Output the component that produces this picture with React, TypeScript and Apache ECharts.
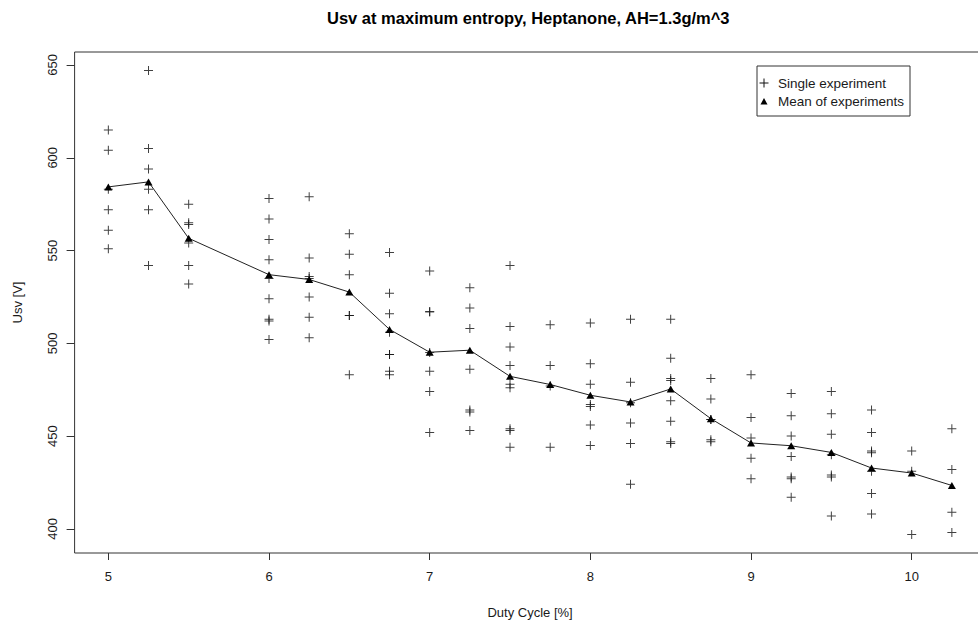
import React, { useEffect, useRef } from "react";
import * as echarts from "echarts";

const FONT = "'Liberation Sans', Arial, Helvetica, sans-serif";

// Duty cycle positions (%)
const dutyCycles: number[] = [5, 5.25, 5.5, 6, 6.25, 6.5, 6.75, 7, 7.25, 7.5, 7.75, 8, 8.25, 8.5, 8.75, 9, 9.25, 9.5, 9.75, 10, 10.25];

// Single experiment values (Usv [V]) per duty cycle
const singleValues: number[][] = [
  [615, 604, 583, 572, 561, 551],
  [647, 605, 594, 583, 572, 542],
  [575, 565, 564, 554, 542, 532],
  [578, 567, 556, 545, 535, 524, 513, 512, 502],
  [579, 546, 536, 535, 525, 514, 503],
  [559, 548, 537, 515, 515, 483],
  [549, 527, 516, 506, 494, 494, 485, 483],
  [539, 517, 517, 495, 485, 474, 452],
  [530, 519, 508, 486, 464, 463, 453],
  [542, 509, 498, 488, 478, 476, 454, 453, 444],
  [510, 488, 477, 444],
  [511, 489, 478, 467, 466, 456, 445],
  [513, 479, 468, 457, 446, 424],
  [513, 492, 481, 480, 469, 458, 447, 446],
  [481, 470, 459, 459, 448, 447],
  [483, 460, 449, 438, 427],
  [473, 461, 450, 439, 428, 427, 417],
  [474, 462, 451, 440, 429, 428, 407],
  [464, 452, 442, 441, 431, 419, 408],
  [442, 431, 397],
  [454, 432, 409, 398],
];

// Mean of experiments per duty cycle
const meanValues: number[] = [584.3, 587.0, 556.6, 537.0, 534.4, 527.6, 507.5, 495.2, 496.3, 482.2, 477.8, 472.0, 468.4, 475.4, 459.4, 446.3, 444.8, 441.2, 432.8, 430.1, 423.4];

// Tick labels
const xTicks: number[] = [5, 6, 7, 8, 9, 10];
const yTicks: number[] = [400, 450, 500, 550, 600, 650];

const CROSS = "path://M4,0H5V4H9V5H5V9H4V5H0V4H4Z";

export default function App() {
  const ref = useRef<HTMLDivElement>(null);

  useEffect(() => {
    if (!ref.current) return;
    const chart = echarts.init(ref.current, null, { renderer: "svg" });

    const singlePoints: number[][] = [];
    dutyCycles.forEach((x, i) => {
      singleValues[i].forEach((v) => singlePoints.push([x, v]));
    });
    const meanPoints = dutyCycles.map((x, i) => [x, meanValues[i]]);

    const labelStyle = { color: "#1a1a1a", fontSize: 13, fontFamily: FONT };

    chart.setOption({
      animation: false,
      backgroundColor: "#fff",
      title: {
        text: "Usv at maximum entropy, Heptanone, AH=1.3g/m^3",
        left: 327,
        top: 9,
        padding: 0,
        textStyle: { color: "#000", fontSize: 16.5, fontWeight: "bold", fontFamily: FONT },
      },
      grid: {
        left: 74.6,
        top: 52,
        width: 911,
        height: 501,
        outerBoundsMode: "none",
        containLabel: false,
        show: true,
        borderColor: "#333",
        borderWidth: 1,
        backgroundColor: "transparent",
      },
      xAxis: {
        type: "value",
        min: 4.79,
        max: 10.46,
        name: "Duty Cycle [%]",
        nameLocation: "middle",
        nameGap: 53,
        nameTextStyle: { ...labelStyle },
        axisLine: { show: false },
        splitLine: { show: false },
        axisTick: { show: true, length: 7, customValues: xTicks, lineStyle: { color: "#333" } },
        axisLabel: { ...labelStyle, margin: 17, customValues: xTicks },
      },
      yAxis: {
        type: "value",
        min: 387,
        max: 657,
        name: "Usv [V]",
        nameLocation: "middle",
        nameGap: 51,
        nameTextStyle: { ...labelStyle },
        axisLine: { show: false },
        splitLine: { show: false },
        axisTick: { show: true, length: 8, customValues: yTicks, lineStyle: { color: "#333" } },
        axisLabel: { ...labelStyle, margin: 16, rotate: 90, customValues: yTicks },
      },
      series: [
        {
          name: "Single experiment",
          type: "scatter",
          data: singlePoints,
          symbol: CROSS,
          symbolSize: 9,
          itemStyle: { color: "#111" },
          z: 2,
        },
        {
          name: "Mean of experiments",
          type: "line",
          data: meanPoints,
          symbol: "triangle",
          symbolSize: [8, 7],
          showAllSymbol: true,
          itemStyle: { color: "#000" },
          lineStyle: { color: "#222", width: 1 },
          z: 3,
        },
      ],
      graphic: [
        {
          type: "group",
          z: 100,
          children: [
            {
              type: "rect",
              shape: { x: 757, y: 66, width: 153, height: 50 },
              style: { fill: "#fff", stroke: "#333", lineWidth: 1 },
            },
            {
              type: "line",
              shape: { x1: 759.5, y1: 83, x2: 768.5, y2: 83 },
              style: { stroke: "#111", lineWidth: 1 },
            },
            {
              type: "line",
              shape: { x1: 764, y1: 78.5, x2: 764, y2: 87.5 },
              style: { stroke: "#111", lineWidth: 1 },
            },
            {
              type: "polygon",
              shape: { points: [[760.5, 104.5], [767.5, 104.5], [764, 98]] },
              style: { fill: "#000" },
            },
            {
              type: "text",
              x: 778,
              y: 83,
              style: { text: "Single experiment", fill: "#1a1a1a", fontSize: 13.5, fontFamily: FONT, verticalAlign: "middle", align: "left" },
            },
            {
              type: "text",
              x: 778,
              y: 101,
              style: { text: "Mean of experiments", fill: "#1a1a1a", fontSize: 13.5, fontFamily: FONT, verticalAlign: "middle", align: "left" },
            },
          ],
        },
      ],
    });

    return () => chart.dispose();
  }, []);

  return (
    <div
      ref={ref}
      style={{ position: "fixed", left: 0, top: 0, width: 978, height: 620, background: "#fff" }}
    />
  );
}
